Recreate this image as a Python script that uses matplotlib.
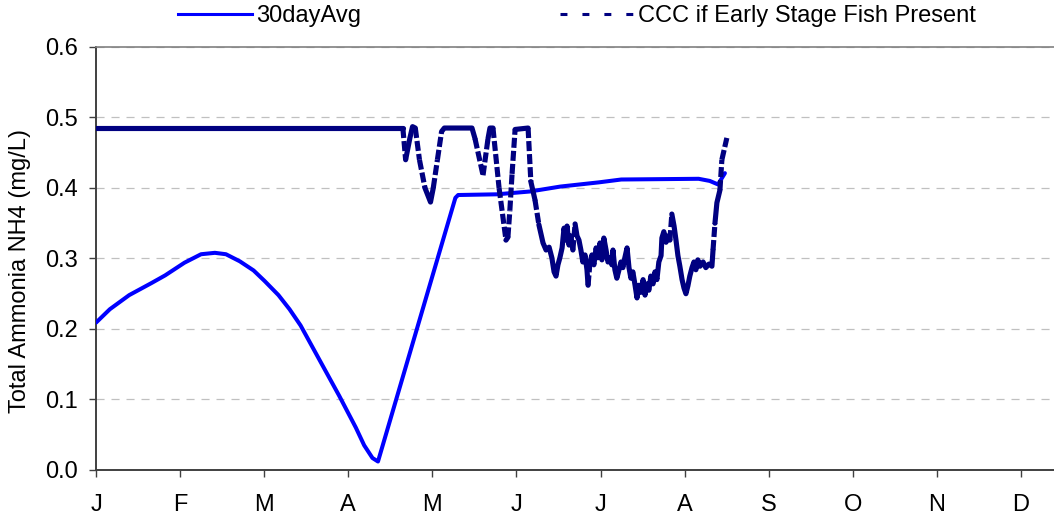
import matplotlib
matplotlib.use("Agg")
import matplotlib.pyplot as plt
from matplotlib.lines import Line2D
from matplotlib.ticker import FormatStrFormatter
import numpy as np

plt.rcParams["font.family"] = ["Liberation Sans", "DejaVu Sans"]
plt.rcParams["font.size"] = 17
plt.rcParams["lines.scale_dashes"] = False

month_labels = ["J", "F", "M", "A", "M", "J", "J", "A", "S", "O", "N", "D"]

# 30 day rolling average (day of year, mg/L)
avg_day = [0, 5, 12, 20, 25, 32, 38, 43, 47, 52, 57, 61, 66, 70, 74, 81, 88,
           94, 97, 100, 102, 130, 131, 145, 157, 168, 182, 190, 218, 222,
           225, 227.5]
avg_val = [0.209, 0.228, 0.248, 0.265, 0.276, 0.294, 0.306, 0.308, 0.306,
           0.296, 0.283, 0.268, 0.248, 0.228, 0.205, 0.155, 0.105, 0.060,
           0.035, 0.017, 0.012, 0.386, 0.390, 0.391, 0.395, 0.402, 0.408,
           0.412, 0.413, 0.410, 0.405, 0.421]

# chronic criterion when early life stages are present
ccc_day = [0, 111.0, 112.0, 113.5, 114.5, 115.5, 117, 119, 120.5, 121, 122,
           123.5, 125, 126, 136, 137.1, 140, 141.8, 142.5, 143.6, 145.8,
           148.3, 149, 149.7, 150.5, 151.6, 156.3,
           157.3, 158.8, 160.2, 161.7, 162.8, 163.9, 164.9, 165.7, 166.4,
           167.1, 167.8, 168.6, 169.3, 170.0, 170.4, 171.1, 171.8, 172.5,
           173.3, 174.0, 174.7, 175.4, 176.1, 176.9, 177.6, 178.0, 178.7,
           179.4, 180.1, 180.9, 181.6, 182.3, 183.0, 183.7, 184.5, 185.2,
           185.9, 186.6, 187.0, 187.7, 188.4, 189.2, 189.9, 190.6, 191.3,
           192.1, 192.8, 193.5, 194.2, 195.0, 195.7, 196.4, 197.1, 197.9,
           198.6, 199.3, 200.0, 200.7, 201.5, 202.2, 202.9, 203.6, 204.4,
           204.7, 205.4, 206.2, 206.9, 207.6, 208.3, 209.1, 209.8, 210.5,
           211.2, 212.0, 212.7, 213.4, 214.1, 214.8, 215.6, 216.3, 217.0,
           217.7, 218.5, 219.6, 220.6, 221.7, 222.8, 223.2, 223.9, 224.6,
           225.7, 226.4, 228.2]
ccc_val = [0.485, 0.485, 0.440, 0.470, 0.487, 0.485, 0.440, 0.400, 0.385,
           0.380, 0.400, 0.440, 0.480, 0.485, 0.485, 0.470, 0.418, 0.470,
           0.485, 0.485, 0.400, 0.326, 0.330, 0.368, 0.420, 0.483, 0.485,
           0.409, 0.383, 0.348, 0.322, 0.312, 0.316, 0.301, 0.281, 0.275,
           0.291, 0.301, 0.315, 0.343, 0.326, 0.346, 0.319, 0.332, 0.312,
           0.349, 0.332, 0.326, 0.312, 0.295, 0.305, 0.284, 0.262, 0.295,
           0.305, 0.291, 0.315, 0.301, 0.322, 0.298, 0.329, 0.312, 0.295,
           0.301, 0.291, 0.312, 0.284, 0.272, 0.284, 0.295, 0.287, 0.301,
           0.315, 0.287, 0.272, 0.281, 0.262, 0.244, 0.262, 0.252, 0.270,
           0.248, 0.264, 0.255, 0.275, 0.264, 0.281, 0.270, 0.295, 0.304,
           0.329, 0.338, 0.323, 0.332, 0.326, 0.363, 0.346, 0.326, 0.304,
           0.289, 0.270, 0.258, 0.250, 0.261, 0.275, 0.287, 0.295, 0.284,
           0.298, 0.289, 0.295, 0.287, 0.292, 0.289, 0.312, 0.350, 0.379,
           0.397, 0.440, 0.471]

BLUE = "#0000FF"
NAVY = "#000080"

fig = plt.figure(figsize=(10.54, 5.2), dpi=100)
ax = fig.add_axes([0.0911, 0.0962, 0.9573, 0.8135])
ax.set_xlim(0, 365)
ax.set_ylim(0, 0.6)

ax.plot(avg_day, avg_val, color=BLUE, lw=2.9, solid_joinstyle="round",
        solid_capstyle="round", zorder=3)

# long steep jumps get broken up with short gaps, the rest is drawn solid
pts = ax.transData.transform(np.column_stack([ccc_day, ccc_val]))
run_x, run_y = [ccc_day[0]], [ccc_val[0]]
for i in range(1, len(ccc_day)):
    dx, dy = np.abs(pts[i] - pts[i - 1])
    if dy > 2.5 * dx and np.hypot(dx, dy) > 22:
        if len(run_x) > 1:
            ax.plot(run_x, run_y, color=NAVY, lw=3.7, solid_joinstyle="round",
                    solid_capstyle="round", zorder=4)
        ax.plot(ccc_day[i - 1:i + 1], ccc_val[i - 1:i + 1], color=NAVY,
                lw=3.7, dashes=(7.2, 2.2), dash_capstyle="butt", zorder=4)
        run_x, run_y = [ccc_day[i]], [ccc_val[i]]
    else:
        run_x.append(ccc_day[i])
        run_y.append(ccc_val[i])
if len(run_x) > 1:
    ax.plot(run_x, run_y, color=NAVY, lw=3.7, solid_joinstyle="round",
            solid_capstyle="round", zorder=4)

ax.set_xticks(np.arange(12) * 365 / 12)
ax.set_xticklabels(month_labels)
ax.set_yticks(np.arange(0, 0.61, 0.1))
ax.yaxis.set_major_formatter(FormatStrFormatter("%.1f"))
ax.tick_params(axis="x", length=5, width=1, color="#404040", pad=12)
ax.tick_params(axis="y", length=5, width=1, color="#404040", pad=8)

ax.yaxis.grid(True, color="#C0C0C0", lw=0.9, dashes=(5.8, 5))
ax.set_axisbelow(True)

for side in ["left", "bottom"]:
    ax.spines[side].set_color("#404040")
    ax.spines[side].set_linewidth(1.4)
ax.spines["top"].set_color("#808080")
ax.spines["top"].set_linewidth(1.2)
ax.spines["right"].set_visible(False)

ax.set_ylabel("Total Ammonia NH4 (mg/L)")
ax.yaxis.set_label_coords(-0.064, 0.47)

handles = [
    Line2D([], [], color=BLUE, lw=2.2),
    Line2D([], [], color=NAVY, lw=2.2, dashes=(5, 10.8)),
]
fig.legend(handles, ["30dayAvg", "CCC if Early Stage Fish Present"],
           loc="center", bbox_to_anchor=(0.5475, 0.969), ncol=2,
           frameon=False, handlelength=3.1, handletextpad=0.21,
           columnspacing=8.4, borderpad=0)

fig.savefig("out.png", dpi=100)
